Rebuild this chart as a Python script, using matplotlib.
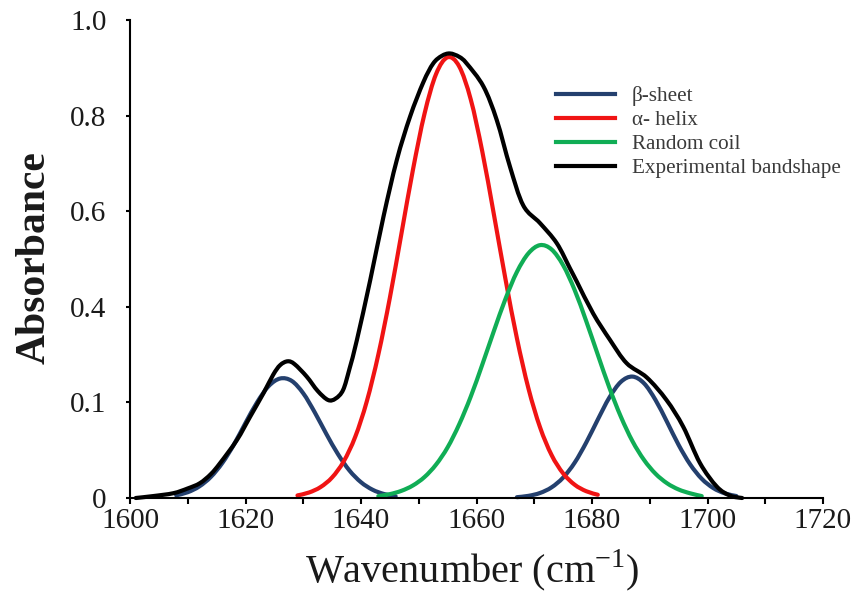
import numpy as np
import matplotlib.pyplot as plt
from matplotlib.path import Path
from matplotlib.patches import PathPatch

plt.rcParams['font.family'] = ['Liberation Serif', 'DejaVu Serif']
plt.rcParams['mathtext.fontset'] = 'custom'
plt.rcParams['mathtext.rm'] = 'Liberation Serif'

# β-sheet band (low wavenumber)
beta1_wn = np.arange(1608, 1647, 2)
beta1_abs = [0.0056, 0.0121, 0.0242, 0.0441, 0.0735, 0.112, 0.157, 0.200, 0.234, 0.250,
             0.245, 0.219, 0.179, 0.134, 0.092, 0.0575, 0.0330, 0.0173, 0.0083, 0.0036]

# β-sheet band (high wavenumber)
beta2_wn = np.arange(1667, 1706, 2)
beta2_abs = [0.0017, 0.0045, 0.0105, 0.0223, 0.0427, 0.0739, 0.116, 0.164, 0.210, 0.243,
             0.254, 0.240, 0.205, 0.159, 0.111, 0.0703, 0.0402, 0.0208, 0.0097, 0.0041]

# α-helix band
helix_wn = np.arange(1629, 1682, 2)
helix_abs = [0.0054, 0.0115, 0.0229, 0.0431, 0.0765, 0.128, 0.202, 0.300, 0.419, 0.553,
             0.687, 0.804, 0.887, 0.922, 0.903, 0.834, 0.725, 0.594, 0.459, 0.334,
             0.229, 0.148, 0.0899, 0.0515, 0.0278, 0.0142, 0.0068]

# random coil band
coil_wn = np.arange(1643, 1700, 2)
coil_abs = [0.004, 0.0081, 0.0150, 0.0263, 0.0439, 0.070, 0.106, 0.154, 0.212, 0.279,
            0.349, 0.416, 0.473, 0.512, 0.529, 0.520, 0.487, 0.435, 0.370, 0.300,
            0.231, 0.170, 0.119, 0.0798, 0.0508, 0.0308, 0.0178, 0.0098, 0.004]

# experimental bandshape
exp_wn = [1601.0, 1604.0, 1607.5, 1610.0, 1612.1, 1614.0, 1615.6, 1618.5, 1620.8, 1623.1,
          1624.8, 1626.0, 1627.3, 1628.5, 1630.6, 1632.5, 1634.3, 1635.6, 1636.9, 1638.0,
          1639.3, 1641.6, 1643.9, 1646.2, 1648.5, 1650.8, 1652.5, 1654.0, 1655.4, 1657.0,
          1658.3, 1661.2, 1663.5, 1665.8, 1668.1, 1671.0, 1673.9, 1676.2, 1677.4, 1680.2,
          1683.1, 1686.0, 1689.5, 1692.9, 1695.8, 1698.7, 1701.6, 1703.9, 1706.0]
exp_abs = [0.000, 0.004, 0.010, 0.020, 0.031, 0.050, 0.073, 0.121, 0.170, 0.219,
           0.258, 0.278, 0.286, 0.280, 0.254, 0.224, 0.205, 0.208, 0.226, 0.270,
           0.331, 0.456, 0.589, 0.707, 0.798, 0.870, 0.909, 0.925, 0.930, 0.923,
           0.909, 0.861, 0.791, 0.693, 0.612, 0.575, 0.533, 0.480, 0.452, 0.386,
           0.331, 0.282, 0.252, 0.205, 0.149, 0.073, 0.024, 0.005, 0.000]

y_tick_pos = [0, 0.2, 0.4, 0.6, 0.8, 1.0]
y_tick_labels = ['0', '0.1', '0.4', '0.6', '0.8', '1.0']

blue = '#24406E'
red = '#F01414'
green = '#10AD55'


def smooth_curve(ax, x, y, color, lw=3):
    # smoothed line through the points (like a spreadsheet "smoothed line")
    x = np.asarray(x, float)
    y = np.asarray(y, float)
    px = np.concatenate([[x[0]], x, [x[-1]]])
    py = np.concatenate([[y[0]], y, [y[-1]]])
    verts = [(x[0], y[0])]
    codes = [Path.MOVETO]
    for i in range(len(x) - 1):
        p0 = np.array([px[i], py[i]])
        p1 = np.array([px[i + 1], py[i + 1]])
        p2 = np.array([px[i + 2], py[i + 2]])
        p3 = np.array([px[i + 3], py[i + 3]])
        verts += [tuple(p1 + (p2 - p0) / 6), tuple(p2 - (p3 - p1) / 6), tuple(p2)]
        codes += [Path.CURVE4] * 3
    patch = PathPatch(Path(verts, codes), facecolor='none', edgecolor=color, lw=lw,
                      capstyle='round', joinstyle='round', clip_on=False)
    ax.add_patch(patch)


fig = plt.figure(figsize=(8.63, 5.92), dpi=100)
ax = fig.add_axes([130/863, 1 - 498/592, 693/863, 478/592])

smooth_curve(ax, beta1_wn, beta1_abs, blue)
smooth_curve(ax, beta2_wn, beta2_abs, blue)
smooth_curve(ax, helix_wn, helix_abs, red)
smooth_curve(ax, coil_wn, coil_abs, green)
smooth_curve(ax, exp_wn, exp_abs, 'black')

# legend handles
ax.plot([], [], color=blue, lw=3, label='β-sheet')
ax.plot([], [], color=red, lw=3, label='α- helix')
ax.plot([], [], color=green, lw=3, label='Random coil')
ax.plot([], [], color='black', lw=3, label='Experimental bandshape')

ax.set_xlim(1600, 1720)
ax.set_ylim(0, 1.0)
for s in ['top', 'right']:
    ax.spines[s].set_visible(False)
for s in ['left', 'bottom']:
    ax.spines[s].set_linewidth(1.5)

xt = np.arange(1600, 1721, 10)
ax.set_xticks(xt)
ax.set_xticklabels([str(v) if v % 20 == 0 else '' for v in xt])
ax.set_yticks(y_tick_pos)
ax.set_yticklabels(y_tick_labels)
ax.tick_params(axis='x', direction='out', length=4, width=1.5, pad=3, labelsize=21, labelcolor='#1a1a1a')
ax.tick_params(axis='y', direction='out', length=3, width=1.5, pad=14, labelsize=21, labelcolor='#1a1a1a')

ax.set_xlabel(r'Wavenumber (cm$^{\mathregular{-1}}$)', fontsize=29, color='#1a1a1a')
ax.xaxis.set_label_coords(0.4935, -0.103)
ax.set_ylabel('Absorbance', fontsize=30, fontweight='bold', color='#1a1a1a')
ax.yaxis.set_label_coords(-0.11, 0.503)

leg = ax.legend(loc='upper left', bbox_to_anchor=(556/863, 1 - 86/592), bbox_transform=fig.transFigure,
                frameon=False, fontsize=15.2, handlelength=2.8, handletextpad=0.8,
                labelspacing=0.2, borderpad=0, borderaxespad=0)
for t in leg.get_texts():
    t.set_color('#3a3a3a')

fig.savefig('out.png', dpi=100)
